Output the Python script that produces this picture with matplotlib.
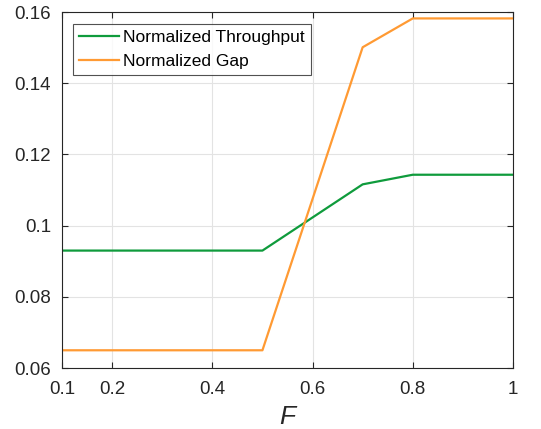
import matplotlib
matplotlib.use("Agg")
import matplotlib.pyplot as plt

F = [0.1, 0.2, 0.3, 0.4, 0.5, 0.6, 0.7, 0.8, 0.9, 1.0]
throughput = [0.0930, 0.0930, 0.0930, 0.0930, 0.0930, 0.1023, 0.1116, 0.1143, 0.1143, 0.1143]
gap = [0.0650, 0.0650, 0.0650, 0.0650, 0.0650, 0.1075, 0.1501, 0.1582, 0.1582, 0.1582]
xticks = [0.1, 0.2, 0.4, 0.6, 0.8, 1.0]
xticklabels = ["0.1", "0.2", "0.4", "0.6", "0.8", "1"]
yticks = [0.06, 0.08, 0.10, 0.12, 0.14, 0.16]
yticklabels = ["0.06", "0.08", "0.1", "0.12", "0.14", "0.16"]

plt.rcParams["font.family"] = ["Liberation Sans", "DejaVu Sans"]
_GREEN, _ORANGE = "#0f9b3c", "#ff9a33"

fig = plt.figure(figsize=(5.41, 4.29), dpi=100)
ax = fig.add_axes([0.1146, 0.142, 0.8336, 0.830])
ax.plot(F, throughput, color=_GREEN, lw=1.6, label="Normalized Throughput")
ax.plot(F, gap, color=_ORANGE, lw=1.6, label="Normalized Gap")

ax.set_xlim(0.1, 1.0); ax.set_ylim(0.06, 0.16)
ax.set_xticks(xticks); ax.set_xticklabels(xticklabels)
ax.set_yticks(yticks); ax.set_yticklabels(yticklabels)
ax.tick_params(direction="in", top=True, right=True, length=4, width=0.8,
               labelsize=13.5, colors="#262626")
ax.tick_params(axis="x", pad=9)
ax.tick_params(axis="y", pad=8)
ax.grid(True, color="#e3e3e3", lw=0.8)
ax.set_axisbelow(True)
for s in ax.spines.values():
    s.set_color("#262626"); s.set_linewidth(0.8)
ax.set_xlabel("F", fontsize=19, fontstyle="italic", color="#262626", labelpad=5)

leg = ax.legend(loc="upper left", fontsize=12.5, frameon=True, fancybox=False,
                handlelength=2.3, handletextpad=0.25, borderpad=0.35,
                labelspacing=0.5, borderaxespad=0, bbox_to_anchor=(0.024, 0.967))
leg.get_frame().set_edgecolor("#262626"); leg.get_frame().set_linewidth(0.8)

fig.savefig("out.png", dpi=100)
